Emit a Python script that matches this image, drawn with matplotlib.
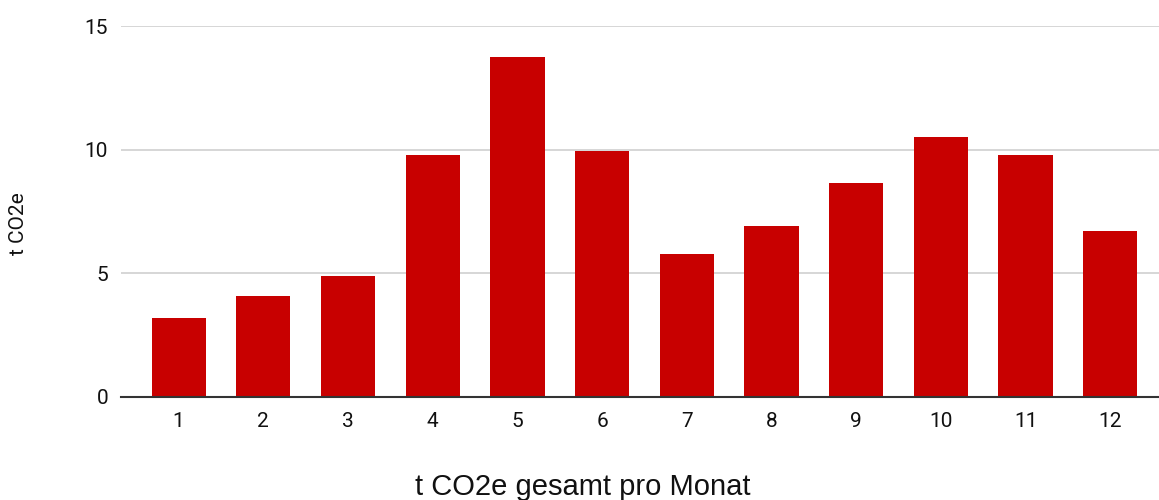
import matplotlib
matplotlib.use("Agg")
from matplotlib import pyplot as plt

months = ["1", "2", "3", "4", "5", "6", "7", "8", "9", "10", "11", "12"]
co2 = [3.2, 4.1, 4.9, 9.8, 13.75, 9.95, 5.8, 6.9, 8.65, 10.5, 9.8, 6.7]
y_ticks = [0, 5, 10, 15]


def main():
    fig = plt.figure(figsize=(11.59, 5.0), dpi=100)
    ax = fig.add_axes([0.1041, 0.206, 0.8955, 0.742])

    x = list(range(len(months)))
    ax.bar(x, co2, width=0.64, color="#c80000", zorder=3)

    ax.set_xlim(-0.685, 11.57)
    ax.set_ylim(0, 15)
    ax.set_yticks(y_ticks)
    ax.set_xticks(x)
    ax.set_xticklabels(months)

    for s in ["top", "right", "left"]:
        ax.spines[s].set_visible(False)
    ax.spines["bottom"].set_color("#333333")
    ax.spines["bottom"].set_linewidth(1.5)
    ax.spines["bottom"].set_zorder(4)

    ax.grid(axis="y", color="#cccccc", linewidth=1.1, zorder=0)
    ax.tick_params(axis="both", length=0, labelsize=15, labelcolor="#111111")
    ax.tick_params(axis="x", pad=10.5)
    ax.tick_params(axis="y", pad=9)
    for lab in ax.get_xticklabels() + ax.get_yticklabels():
        lab.set_fontfamily("Roboto")

    fig.text(19 / 1159, 1 - 224 / 500, "t CO2e", rotation=90, ha="center",
             va="center", fontsize=15, family="Roboto", color="#111111")
    fig.text(0.5025, 0.01, "t CO2e gesamt pro Monat", ha="center",
             va="baseline", fontsize=21, family="Liberation Sans", color="#111111")

    fig.savefig("out.png", dpi=100)


if __name__ == '__main__':
    main()
